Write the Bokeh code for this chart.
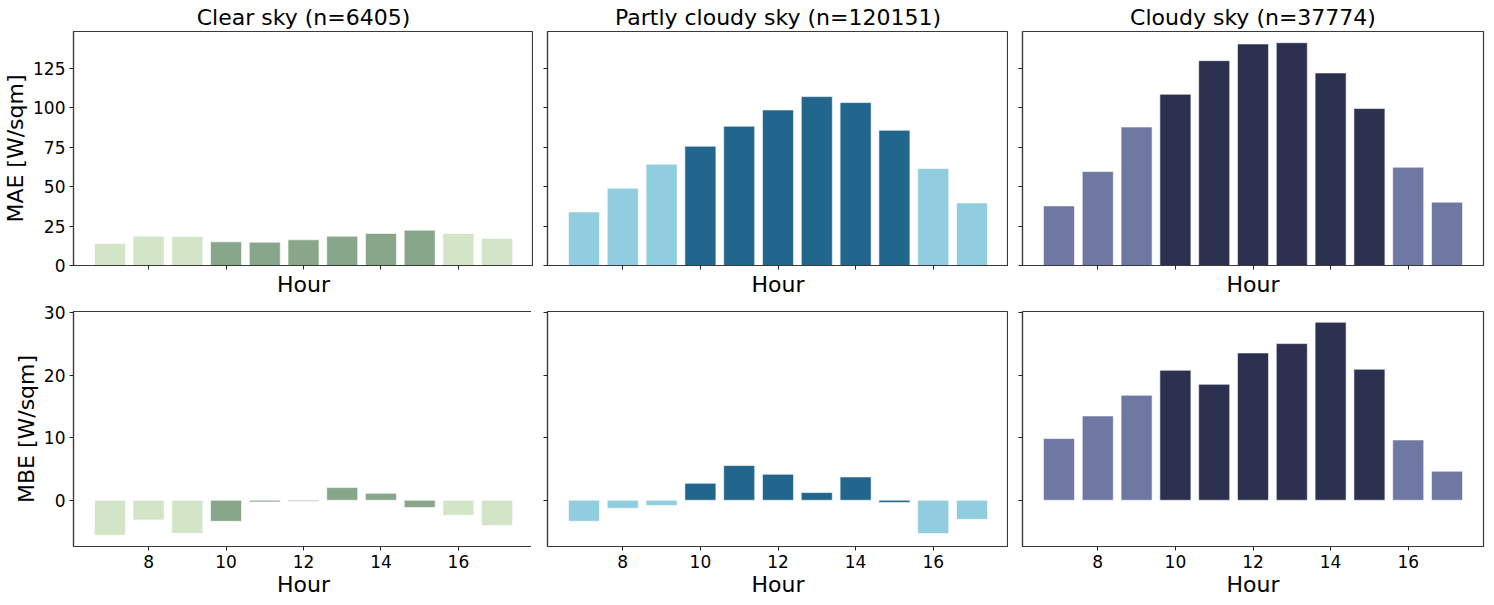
from bokeh.plotting import figure
from bokeh.layouts import gridplot
from bokeh.models import FixedTicker, CustomJSTickFormatter, Range1d, ColumnDataSource
from bokeh.embed import file_html
from bokeh.resources import INLINE

hours = [7, 8, 9, 10, 11, 12, 13, 14, 15, 16, 17]
titles = ["Clear sky (n=6405)", "Partly cloudy sky (n=120151)", "Cloudy sky (n=37774)"]

mae_clear = [14.0, 18.6, 18.4, 15.0, 14.8, 16.3, 18.6, 20.3, 22.4, 20.3, 17.1]
mae_partly = [34.0, 49.0, 64.3, 75.7, 88.4, 98.7, 107.2, 103.4, 85.8, 61.5, 39.7]
mae_cloudy = [37.8, 59.6, 87.9, 108.7, 130.0, 140.6, 141.4, 122.2, 99.6, 62.4, 40.2]

mbe_clear = [-5.6, -3.15, -5.28, -3.36, -0.27, -0.15, 2.03, 1.12, -1.17, -2.4, -4.05]
mbe_partly = [-3.36, -1.28, -0.85, 2.72, 5.55, 4.16, 1.23, 3.73, -0.37, -5.33, -3.04]
mbe_cloudy = [9.87, 13.49, 16.8, 20.8, 18.56, 23.57, 25.07, 28.48, 20.96, 9.65, 4.64]

# hours 10-15 are "core" hours (dark shade)
core = [False, False, False, True, True, True, True, True, True, False, False]
light_colors = ["#d3e4c7", "#8fcddf", "#6f77a3"]
dark_colors = ["#88a78a", "#22668d", "#2d3150"]

x_ticks = [8, 10, 12, 14, 16]
mae_ticks = [0, 25, 50, 75, 100, 125]
mbe_ticks = [0, 10, 20, 30]

FONT = "DejaVu Sans"
FW = 460

mae_range = Range1d(0, 148.5)
mbe_range = Range1d(-7.4, 30.2)

left_borders = [71, 14, 14]
right_borders = [0, 0, 8]


def make(col, row, values):
    top = row == 0
    p = figure(
        output_backend="svg", toolbar_location=None,
        frame_width=FW if col == 0 else FW + 1, frame_height=234 if top else 235,
        x_range=Range1d(6.06, 17.94),
        y_range=mae_range if top else mbe_range,
        min_border_left=left_borders[col], min_border_right=right_borders[col],
        min_border_top=2 if top else 12, min_border_bottom=0,
        title=titles[col] if top else None,
    )
    cols = [dark_colors[col] if c else light_colors[col] for c in core]
    src = ColumnDataSource(dict(x=hours, top=values, color=cols))
    p.vbar(x="x", top="top", bottom=0, width=0.8, color="color",
           line_color="white", line_width=0.6, source=src)

    p.xgrid.visible = False
    p.ygrid.visible = False
    p.outline_line_color = "#3a3a3a"
    p.outline_line_width = 1.2
    p.background_fill_color = "white"
    p.border_fill_color = "white"

    if top:
        p.title.text_font = FONT
        p.title.text_font_size = "22px"
        p.title.text_font_style = "normal"
        p.title.text_color = "black"
        p.title.align = "center"
        p.title.standoff = 4

    for ax in (p.xaxis[0], p.yaxis[0]):
        ax.axis_line_color = "#3a3a3a"
        ax.axis_line_width = 1.2
        ax.major_tick_line_color = "#222222"
        ax.major_tick_in = 0
        ax.major_tick_out = 4
        ax.minor_tick_line_color = None
        ax.major_label_text_font = FONT
        ax.major_label_text_font_size = "17px"
        ax.major_label_text_color = "black"
        ax.axis_label_text_font = FONT
        ax.axis_label_text_font_size = "22px"
        ax.axis_label_text_font_style = "normal"
        ax.axis_label_text_color = "black"

    p.xaxis.ticker = FixedTicker(ticks=x_ticks)
    p.xaxis.axis_label = "Hour"
    if top:
        p.xaxis.formatter = CustomJSTickFormatter(code="return '';")
        p.xaxis.major_label_standoff = 0
        p.xaxis.axis_label_standoff = 2
    else:
        p.xaxis.major_label_standoff = 4
        p.xaxis.axis_label_standoff = 1

    p.yaxis.ticker = FixedTicker(ticks=mae_ticks if top else mbe_ticks)
    if col == 0:
        p.yaxis.axis_label = "MAE [W/sqm]" if top else "MBE [W/sqm]"
        p.yaxis.major_label_standoff = 4
        p.yaxis.axis_label_standoff = 2
    else:
        p.yaxis.formatter = CustomJSTickFormatter(code="return '';")
        p.yaxis.major_label_standoff = 0
    return p


mae_sets = [mae_clear, mae_partly, mae_cloudy]
mbe_sets = [mbe_clear, mbe_partly, mbe_cloudy]

grid = gridplot(
    [[make(c, 0, mae_sets[c]) for c in range(3)],
     [make(c, 1, mbe_sets[c]) for c in range(3)]],
    toolbar_location=None,
)

open("out.html", "w").write(file_html(grid, INLINE))
